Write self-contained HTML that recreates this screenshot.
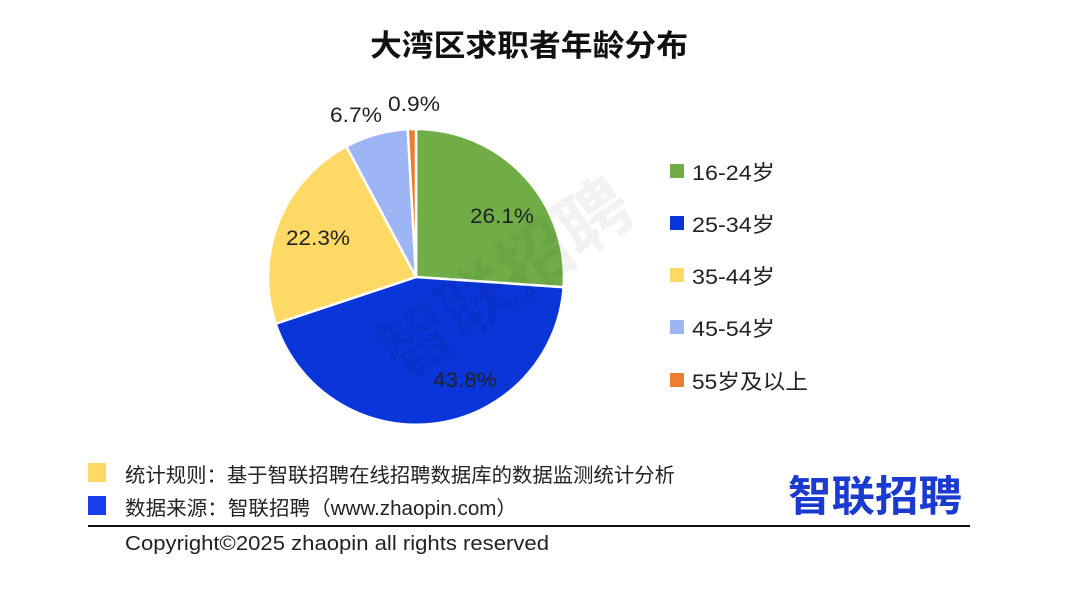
<!DOCTYPE html>
<html><head><meta charset="utf-8"><style>
body{margin:0;background:#fff;width:1080px;height:602px;overflow:hidden;font-family:"Liberation Sans","Noto Sans CJK SC",sans-serif;}
</style></head><body>
<svg width="1080" height="602" xmlns="http://www.w3.org/2000/svg" font-family="Liberation Sans, Noto Sans CJK SC, sans-serif">
<text x="370" y="56" font-size="30" font-weight="bold" fill="#111" textLength="318" lengthAdjust="spacingAndGlyphs">大湾区求职者年龄分布</text>
<g stroke="#fff" stroke-width="2.5">
<path d="M416,277 L416,129 A148,148 0 0 1 563.6,287.2 Z" fill="#70ad47"/>
<path d="M416,277 L563.6,287.2 A148,148 0 0 1 275.6,323.7 Z" fill="#0a35d8"/>
<path d="M416,277 L275.6,323.7 A148,148 0 0 1 346.3,146.4 Z" fill="#ffd966"/>
<path d="M416,277 L346.3,146.4 A148,148 0 0 1 407.7,129.2 Z" fill="#9db4f5"/>
<path d="M416,277 L407.7,129.2 A148,148 0 0 1 416,129 Z" fill="#ed7d31"/>
</g>
<g font-size="21" fill="#222">
<text x="470" y="223" textLength="64" lengthAdjust="spacingAndGlyphs">26.1%</text>
<text x="433" y="387" textLength="64" lengthAdjust="spacingAndGlyphs">43.8%</text>
<text x="286" y="245" textLength="64" lengthAdjust="spacingAndGlyphs">22.3%</text>
<text x="330" y="122" textLength="52" lengthAdjust="spacingAndGlyphs">6.7%</text>
<text x="388" y="111" textLength="52" lengthAdjust="spacingAndGlyphs">0.9%</text>
</g>
<text x="520" y="300" font-size="72" font-weight="bold" fill="#000" fill-opacity="0.05" text-anchor="middle" transform="rotate(-35 520 300)">智联招聘</text>
<g font-size="21" fill="#222">
<rect x="670" y="164" width="14" height="14" fill="#70ad47"/><text x="692" y="180" textLength="83" lengthAdjust="spacingAndGlyphs">16-24岁</text>
<rect x="670" y="216" width="14" height="14" fill="#0a35d8"/><text x="692" y="232" textLength="83" lengthAdjust="spacingAndGlyphs">25-34岁</text>
<rect x="670" y="268" width="14" height="14" fill="#ffd966"/><text x="692" y="284" textLength="83" lengthAdjust="spacingAndGlyphs">35-44岁</text>
<rect x="670" y="320" width="14" height="14" fill="#9db4f5"/><text x="692" y="336" textLength="83" lengthAdjust="spacingAndGlyphs">45-54岁</text>
<rect x="670" y="373" width="14" height="14" fill="#ed7d31"/><text x="692" y="389" textLength="116" lengthAdjust="spacingAndGlyphs">55岁及以上</text>
</g>
<rect x="88" y="463" width="18" height="19" fill="#ffd966"/>
<rect x="88" y="496" width="18" height="19" fill="#1a3df0"/>
<g font-size="20" fill="#222">
<text x="125" y="482" textLength="550" lengthAdjust="spacingAndGlyphs">统计规则：基于智联招聘在线招聘数据库的数据监测统计分析</text>
<text x="125" y="515" textLength="392" lengthAdjust="spacingAndGlyphs">数据来源：智联招聘（www.zhaopin.com）</text>
<text x="125" y="550" textLength="424" lengthAdjust="spacingAndGlyphs">Copyright©2025 zhaopin all rights reserved</text>
</g>
<text x="788" y="511" font-size="42" font-weight="bold" fill="#1a3ad0" textLength="174" lengthAdjust="spacingAndGlyphs">智联招聘</text>
<line x1="88" y1="526" x2="970" y2="526" stroke="#111" stroke-width="2"/>
</svg>
</body></html>
